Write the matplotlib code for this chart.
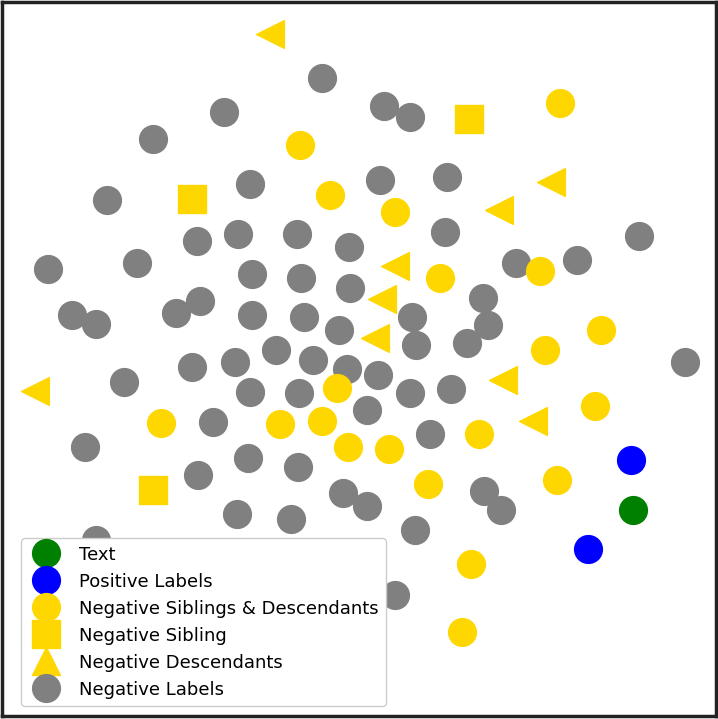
import matplotlib
matplotlib.use("Agg")
import matplotlib.pyplot as plt
from matplotlib.lines import Line2D

# point positions (x to the right, y downwards)
neg_x = [322, 224, 153, 384, 410, 250, 107, 380, 447, 197, 238, 297, 349, 445, 639,
         48, 137, 252, 301, 350, 516, 577, 72, 96, 176, 200, 252, 304, 339, 412, 483,
         488, 416, 467, 276, 313, 235, 192, 347, 378, 124, 250, 299, 410, 451, 685,
         367, 213, 430, 85, 248, 298, 198, 343, 367, 484, 501, 237, 291, 415, 96, 395]
neg_y = [78, 112, 139, 106, 117, 184, 200, 180, 177, 241, 234, 234, 247, 232, 236,
         269, 263, 274, 278, 288, 263, 260, 315, 324, 313, 301, 315, 317, 330, 317, 298,
         325, 345, 343, 350, 360, 362, 367, 369, 375, 382, 392, 393, 393, 389, 362,
         410, 422, 434, 447, 458, 467, 475, 493, 506, 491, 510, 514, 519, 530, 540, 595]

sib_desc_x = [560, 300, 330, 395, 440, 540, 601, 545, 337, 595, 161, 280, 322, 479,
              348, 389, 428, 557, 471, 462]
sib_desc_y = [103, 145, 195, 212, 278, 271, 330, 350, 388, 406, 423, 424, 421, 434,
              447, 449, 484, 480, 564, 632]

sib_x = [192, 469, 153]
sib_y = [199, 119, 490]

desc_x = [270, 551, 499, 395, 382, 375, 503, 533, 35]
desc_y = [34, 182, 210, 266, 299, 338, 380, 421, 391]

pos_x = [631, 588]
pos_y = [460, 549]

text_x = [633]
text_y = [510]

fig = plt.figure(figsize=(7.18, 7.19), dpi=100)
ax = fig.add_axes([1.5 / 718, 3 / 719, 714 / 718, 714 / 719])

s = 400
ax.scatter(neg_x, neg_y, s=s, c="gray", marker="o")
ax.scatter(sib_desc_x, sib_desc_y, s=s, c="gold", marker="o")
ax.scatter(sib_x, sib_y, s=s, c="gold", marker="s")
ax.scatter(desc_x, desc_y, s=s, c="gold", marker="<")
ax.scatter(pos_x, pos_y, s=s, c="blue", marker="o")
ax.scatter(text_x, text_y, s=s, c="green", marker="o")

ax.set_xlim(1.5, 715.5)
ax.set_ylim(716, 2)
ax.set_xticks([])
ax.set_yticks([])
for sp in ax.spines.values():
    sp.set_linewidth(2.5)
    sp.set_color("#222222")

def handle(color, marker):
    return Line2D([], [], linestyle="none", marker=marker, markersize=20,
                  markerfacecolor=color, markeredgecolor=color)

handles = [handle("green", "o"), handle("blue", "o"), handle("gold", "o"),
           handle("gold", "s"), handle("gold", "^"), handle("gray", "o")]
labels = ["Text", "Positive Labels", "Negative Siblings & Descendants",
          "Negative Sibling", "Negative Descendants", "Negative Labels"]
ax.legend(handles, labels, loc="lower left", bbox_to_anchor=(19.5 / 714, 10 / 714),
          borderaxespad=0, fontsize=13, labelspacing=0.5, framealpha=1)

fig.savefig("out.png", dpi=100)
